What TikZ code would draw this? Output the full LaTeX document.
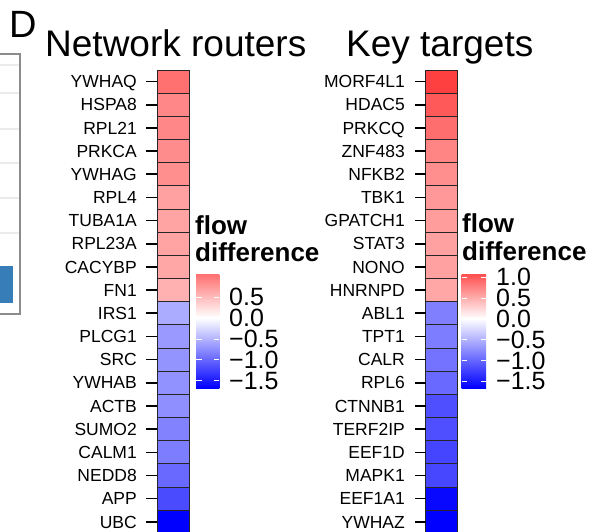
\documentclass[tikz,border=0pt]{standalone}
\usepackage{fontspec}
\setmainfont{Liberation Sans}
\usepackage{tikz}
\definecolor{barblue}{HTML}{377EB8}

\begin{document}
\begin{tikzpicture}[x=1pt,y=-1pt,
gene/.style={font=\fontsize{17.5}{18}\selectfont,inner sep=0pt,anchor=base east},
cellbox/.style={draw=black!85,line width=0.8pt,minimum width=32pt,minimum height=23.17pt,inner sep=0pt,outer sep=0pt},
tickmark/.style={line width=1.6pt},
title/.style={font=\fontsize{37}{40}\selectfont,inner sep=0pt,anchor=base west},
legtitle/.style={font=\bfseries\fontsize{26}{28}\selectfont,inner sep=0pt,anchor=base west},
leglabel/.style={font=\fontsize{25}{26}\selectfont,inner sep=0pt,anchor=base west},
bartick/.style={white,line width=0.6pt}]
\useasboundingbox (0,0) rectangle (592,532);

\foreach \y in {65,93,129,163,198,233}
  \draw[black!8,line width=1.2pt] (0,\y) -- (19,\y);
\fill[barblue] (0,266) rectangle (13,303);
\draw[black!45,line width=2pt] (0,54) -- (20,54) -- (20,314) -- (0,314);

\node[title,font=\fontsize{38}{40}\selectfont] (panel) at (9,38) {D};
\node[title] (t1) at (45,57) {Network routers};
\node[title] (t2) at (346,57) {Key targets};

\foreach \g/\c/\p [count=\i from 0] in {YWHAQ/red/56,HSPA8/red/47,RPL21/red/47,PRKCA/red/45,YWHAG/red/44,
  RPL4/red/37,TUBA1A/red/36,RPL23A/red/36,CACYBP/red/35,FN1/red/31,
  IRS1/blue/33,PLCG1/blue/40,SRC/blue/42,YWHAB/blue/43,ACTB/blue/44,
  SUMO2/blue/49,CALM1/blue/51,NEDD8/blue/59,APP/blue/71,UBC/blue/100}
{
  \node[cellbox,fill=\c!\p!white] (rc\i) at (173.3,{70+23.17*(\i+0.5)}) {};
  \draw[tickmark] (rc\i.west) -- ++(-11,0);
  \node[gene] (rl\i) at (137,{76.2+23.17*(\i+0.5)}) {\g};
}

\foreach \g/\c/\p [count=\i from 0] in {MORF4L1/red/75,HDAC5/red/65,PRKCQ/red/57,ZNF483/red/48,NFKB2/red/44,
  TBK1/red/40,GPATCH1/red/39,STAT3/red/37,NONO/red/37,HNRNPD/red/35,
  ABL1/blue/50,TPT1/blue/51,CALR/blue/55,RPL6/blue/59,CTNNB1/blue/69,
  TERF2IP/blue/69,EEF1D/blue/73,MAPK1/blue/72,EEF1A1/blue/97,YWHAZ/blue/100}
{
  \node[cellbox,fill=\c!\p!white] (kc\i) at (441.7,{70+23.17*(\i+0.5)}) {};
  \draw[tickmark] (kc\i.west) -- ++(-11,0);
  \node[gene] (kl\i) at (405,{76.2+23.17*(\i+0.5)}) {\g};
}

\node[legtitle] (f1) at (195,234) {flow};
\node[legtitle] (d1) at (195,261.5) {difference};
\shade[top color=red!56!white,bottom color=white] (196,274) rectangle (219.3,317.9);
\shade[top color=white,bottom color=blue] (196,317.9) rectangle (219.3,388);
\foreach \y/\v in {297/0.5,317.9/0.0,338.8/−0.5,359.6/−1.0,380.5/−1.5}
{
  \draw[bartick] (196,\y) -- ++(5.5,0) (219.3,\y) -- ++(-5.5,0);
  \node[leglabel] at (229,\y+8.9) {\v};
}

\node[legtitle] (f2) at (462,233) {flow};
\node[legtitle] (d2) at (462,260.5) {difference};
\shade[top color=red!69!white,bottom color=white] (461.7,274) rectangle (486,318.6);
\shade[top color=white,bottom color=blue] (461.7,318.6) rectangle (486,388);
\foreach \y/\v in {277/1.0,297.8/0.5,318.6/0.0,339.4/−0.5,360.2/−1.0,381/−1.5}
{
  \draw[bartick] (461.7,\y) -- ++(5.5,0) (486,\y) -- ++(-5.5,0);
  \node[leglabel] at (496,\y+8.9) {\v};
}
\end{tikzpicture}
\end{document}
